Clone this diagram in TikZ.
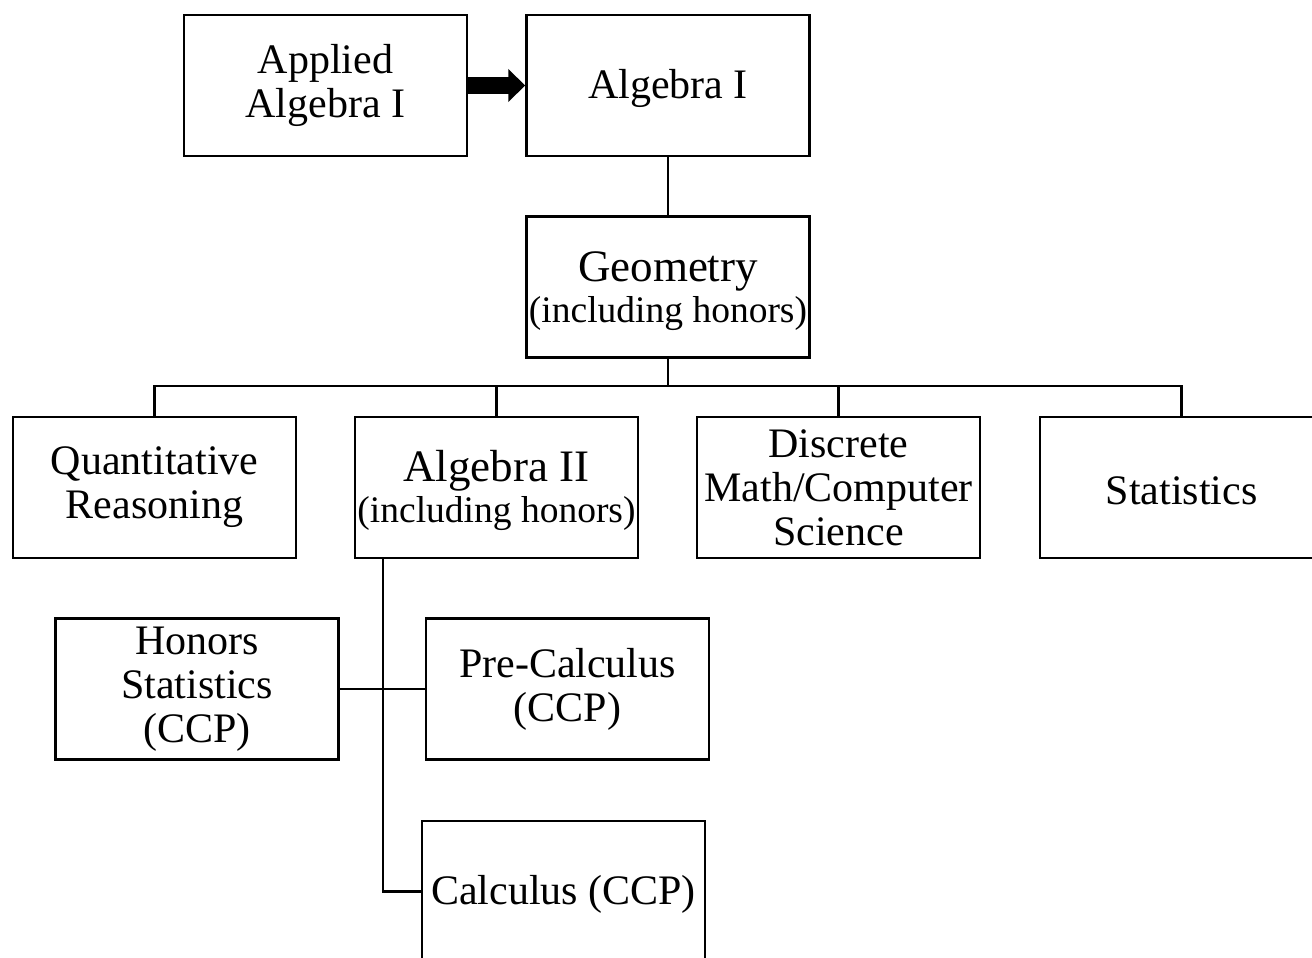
\documentclass[tikz,border=0pt]{standalone}
\usepackage{fontspec}
\setmainfont{Liberation Serif}
\usepackage{tikz}
\usetikzlibrary{arrows.meta}

\tikzset{
  course/.style={draw, line width=2.5pt, minimum width=283pt, minimum height=141pt,
    inner sep=0pt, align=center, font=\fontsize{42}{44}\selectfont,
    execute at begin node={\rule{0pt}{35pt}}},
  link/.style={line width=2.2pt},
}
\newcommand{\titletxt}{\fontsize{45}{45}\selectfont}
\newcommand{\subtxt}{\fontsize{37.5}{41}\selectfont}

\begin{document}
\begin{tikzpicture}[x=1pt,y=-1pt]
  \clip (0,0) rectangle (1312,958);

  % Draw the top row
  \node[course] (appl) at (325.5,85.5) {Applied\\Algebra I};
  \node[course] (alg1) at (668,85.5) {Algebra I};
  \draw[line width=16pt, -{Triangle[length=17pt,width=32pt]}] (appl.east) -- (alg1.west);

  % Geometry below Algebra I
  \node[course] (geom) at (668,287) {{\titletxt\rule{0pt}{38pt}Geometry}\\[-3pt]{\subtxt (including honors)}};
  \draw[link] (alg1.south) -- (geom.north);

  % Draw the four courses after geometry
  \node[course] (quant) at (154.5,487.5) {Quantitative\\Reasoning};
  \node[course] (alg2) at (496.5,487.5) {{\titletxt\rule{0pt}{38pt}Algebra II}\\[-3pt]{\subtxt (including honors)}};
  \node[course] (disc) at (838.5,487.5) {Discrete\\Math/Computer\\Science};
  \node[course] (stat) at (1181.5,487.5) {Statistics};

  \coordinate (bus) at (668,386);
  \draw[link] (geom.south) -- (bus);
  \draw[link] (quant.north) |- (bus) -| (stat.north);
  \draw[link] (alg2.north) -- (alg2.north |- bus);
  \draw[link] (disc.north) -- (disc.north |- bus);

  % Draw the courses after Algebra II
  \node[course] (hon) at (197,689) {Honors\\Statistics\\(CCP)};
  \node[course] (prec) at (567.5,689) {Pre-Calculus\\(CCP)};
  \node[course] (calc) at (563.5,891.5) {Calculus (CCP)};

  \coordinate (hub) at (383,689);
  \draw[link] (alg2.south -| hub) |- (calc.west);
  \draw[link] (hon.east) -- (prec.west);
\end{tikzpicture}
\end{document}
